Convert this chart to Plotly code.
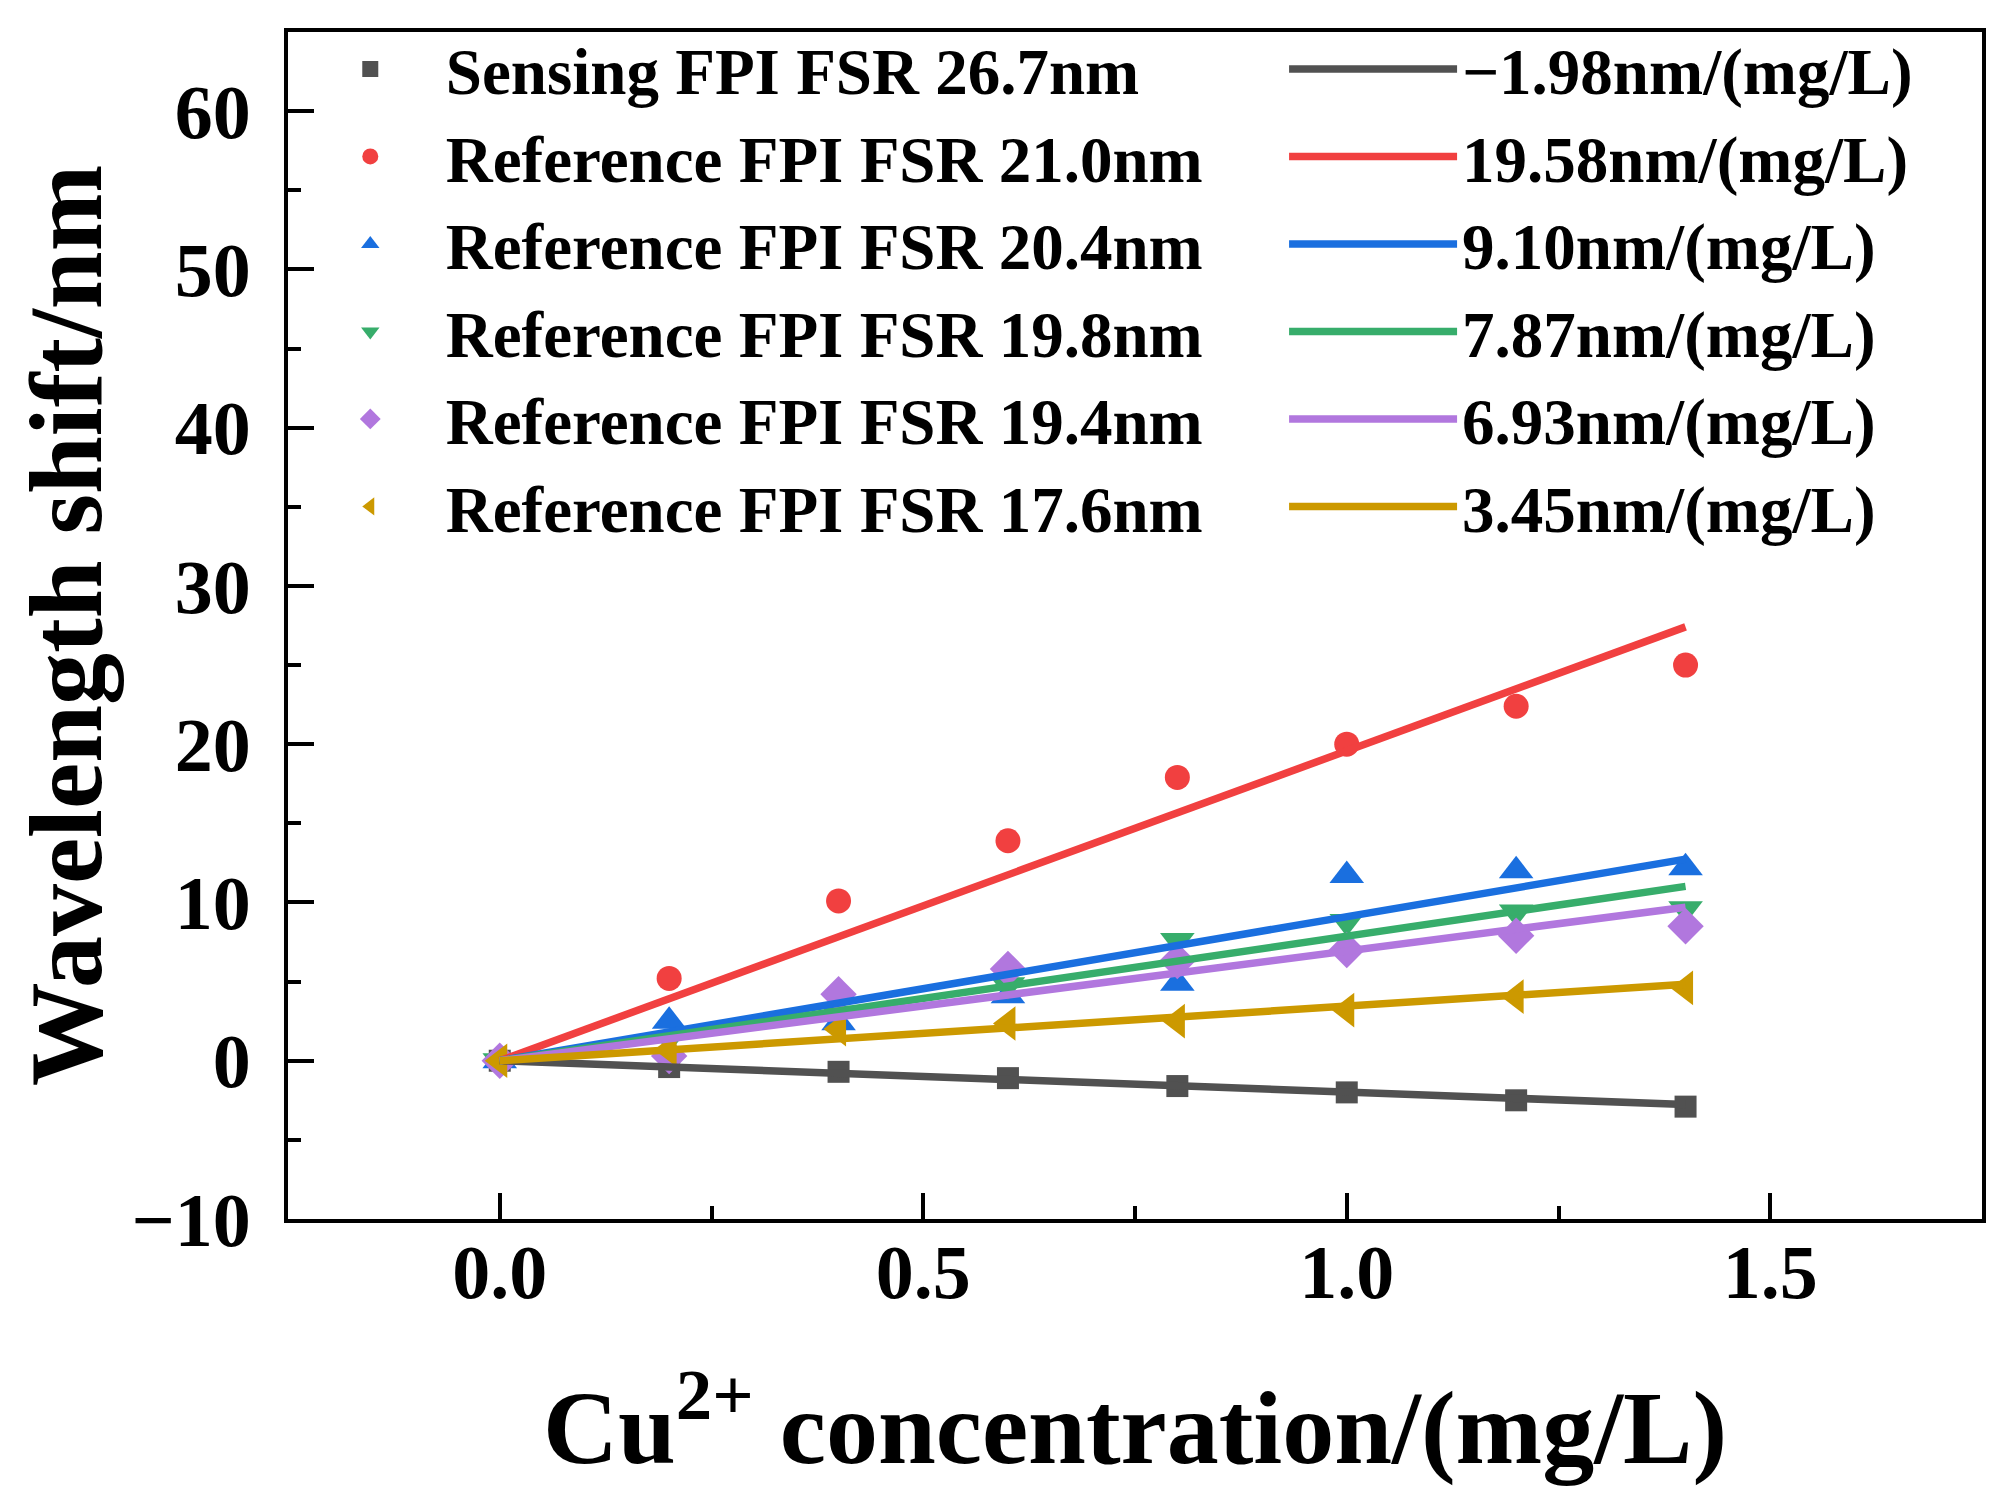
import numpy as np
import plotly.graph_objects as go

# Cu2+ concentration (mg/L)
conc = [0, 0.2, 0.4, 0.6, 0.8, 1.0, 1.2, 1.4]

# wavelength shift (nm) for each FPI
sensing_267 = [0, -0.4, -0.7, -1.1, -1.6, -2.0, -2.5, -2.9]
ref_210 = [0, 5.2, 10.1, 13.9, 17.9, 20.0, 22.4, 25.0]
ref_204 = [0, 2.5, 2.4, 4.1, 4.9, 11.7, 12.0, 12.2]
ref_198 = [0, 1.4, 3.0, 4.8, 7.6, 8.8, 9.4, 9.6]
ref_194 = [0, 0.3, 4.2, 5.8, 6.3, 7.0, 7.9, 8.5]
ref_176 = [0, 0.7, 2.0, 2.35, 2.5, 3.2, 4.05, 4.6]

names = ['Sensing FPI FSR 26.7nm', 'Reference FPI FSR 21.0nm', 'Reference FPI FSR 20.4nm',
         'Reference FPI FSR 19.8nm', 'Reference FPI FSR 19.4nm', 'Reference FPI FSR 17.6nm']
slopes = [-1.98, 19.58, 9.10, 7.87, 6.93, 3.45]
slope_labels = ['\u22121.98nm/(mg/L)', '19.58nm/(mg/L)', '9.10nm/(mg/L)',
                '7.87nm/(mg/L)', '6.93nm/(mg/L)', '3.45nm/(mg/L)']

series = [sensing_267, ref_210, ref_204, ref_198, ref_194, ref_176]
colors = ['#515151', '#F14040', '#1A6FDF', '#37AD6B', '#B177DE', '#CC9900']
symbols = ['square', 'circle', 'triangle-up', 'triangle-down', 'diamond', 'triangle-left']
sizes = [22, 25, 30, 30, 28, 30]

font_family = 'Liberation Serif, Times New Roman, serif'

fig = go.Figure()

# measured points -> left legend column
for ys, name, c, s, sz in zip(series, names, colors, symbols, sizes):
    fig.add_trace(go.Scatter(x=conc, y=ys, mode='markers', name=name,
                             marker=dict(color=c, symbol=s, size=sz, line=dict(width=0)),
                             legend='legend'))

# linear fits through origin -> right legend column
fit_x = np.array([0, 1.4])
for k, lab, c in zip(slopes, slope_labels, colors):
    fig.add_trace(go.Scatter(x=fit_x, y=k * fit_x, mode='lines', name=lab,
                             line=dict(color=c, width=7.5), legend='legend2'))

axis_common = dict(showline=True, linecolor='black', linewidth=4, mirror=True,
                   ticks='inside', ticklen=26, tickwidth=4, tickcolor='black',
                   showgrid=False, zeroline=False,
                   tickfont=dict(family=font_family, size=76, color='black', weight='bold'))

fig.update_xaxes(range=[-0.25, 1.75], dtick=0.5, tick0=0, tickformat='.1f',
                 minor=dict(dtick=0.25, ticks='inside', ticklen=13, tickwidth=4, tickcolor='black'),
                 ticklabelstandoff=-16,
                 title=dict(text='Cu<sup>2+</sup> concentration/(mg/L)', standoff=78,
                            font=dict(family=font_family, size=104, color='black', weight='bold')),
                 **axis_common)
fig.update_yaxes(range=[-10, 65], dtick=10, tick0=0,
                 minor=dict(dtick=5, ticks='inside', ticklen=13, tickwidth=4, tickcolor='black'),
                 ticklabelstandoff=18,
                 title=dict(text='Wavelength shift/nm', standoff=36,
                            font=dict(family=font_family, size=104, color='black', weight='bold')),
                 **axis_common)

legend_font = dict(family=font_family, size=65, color='black', weight='bold')
fig.update_layout(
    width=2012, height=1510,
    margin=dict(l=280, r=38, t=24, b=299),
    paper_bgcolor='white', plot_bgcolor='white',
    legend=dict(x=0.004, y=1.010, xanchor='left', yanchor='top', font=legend_font,
                bgcolor='rgba(0,0,0,0)', itemwidth=141, tracegroupgap=0),
    legend2=dict(x=0.588, y=1.010, xanchor='left', yanchor='top', font=legend_font,
                 bgcolor='rgba(0,0,0,0)', itemwidth=168, tracegroupgap=0),
)

fig.write_html('out.html')
